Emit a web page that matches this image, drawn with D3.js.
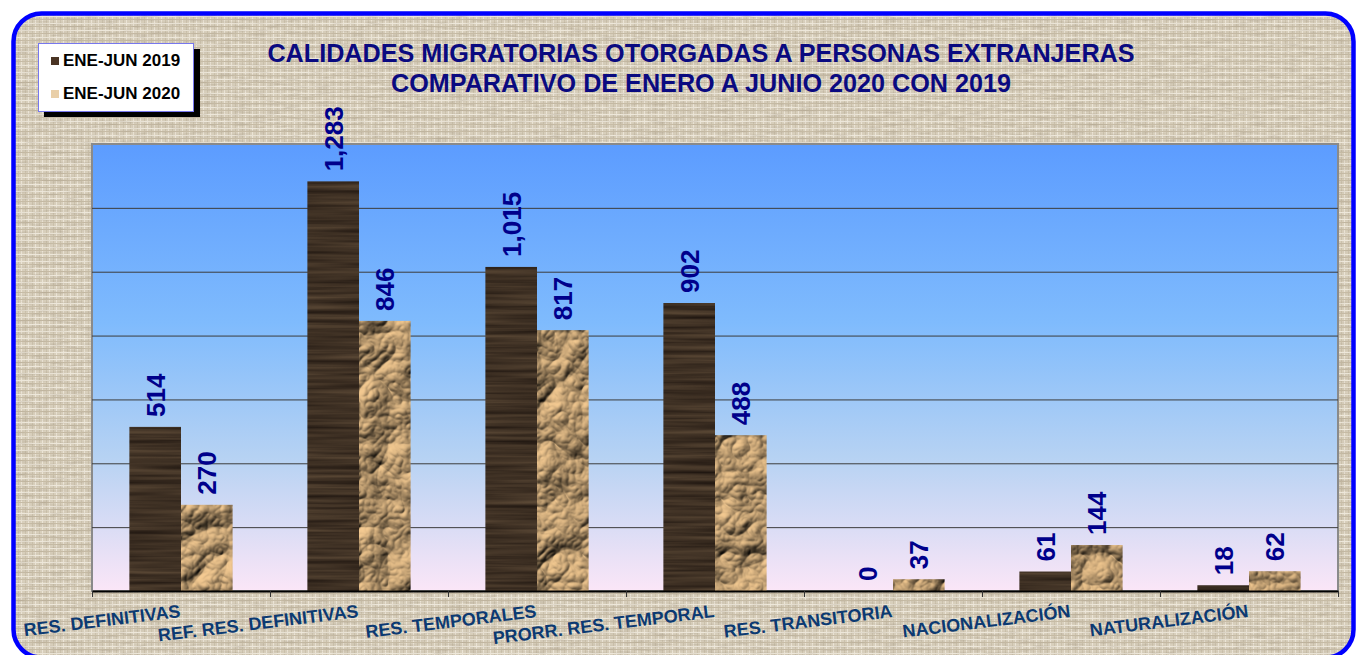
<!DOCTYPE html>
<html>
<head>
<meta charset="utf-8">
<script src="https://cdn.jsdelivr.net/npm/d3@7"></script>
<style>
  html, body { margin: 0; padding: 0; background: #fff; }
  svg { display: block; font-family: Arial, "Liberation Sans", sans-serif; }
</style>
</head>
<body>
<div id="chart"></div>
<script>
// data
const categories = ["RES. DEFINITIVAS", "REF. RES. DEFINITIVAS", "RES. TEMPORALES",
  "PRORR. RES. TEMPORAL", "RES. TRANSITORIA", "NACIONALIZACIÓN", "NATURALIZACIÓN"];
const ene2019 = [514, 1283, 1015, 902, 0, 61, 18];
const ene2020 = [270, 846, 817, 488, 37, 144, 62];
const seriesNames = ["ENE-JUN 2019", "ENE-JUN 2020"];
const titleLines = ["CALIDADES MIGRATORIAS OTORGADAS A PERSONAS EXTRANJERAS",
  "COMPARATIVO DE ENERO A JUNIO 2020 CON 2019"];
const gridValues = [200, 400, 600, 800, 1000, 1200];

const width = 1357, height = 655;
const plot = {left: 92, right: 1338, top: 144, bottom: 591};

const svg = d3.select("#chart").append("svg")
  .attr("width", width).attr("height", height);
const defs = svg.append("defs");

// linen background
const linen = defs.append("pattern").attr("id", "linen")
  .attr("patternUnits", "userSpaceOnUse").attr("width", 7).attr("height", 7);
linen.append("rect").attr("width", 7).attr("height", 7).attr("fill", "#d8cfbc");
linen.append("rect").attr("x", 0).attr("width", 1).attr("height", 7).attr("fill", "#ebe4d6");
linen.append("rect").attr("x", 4).attr("width", 1).attr("height", 7).attr("fill", "#cbc1ac");
linen.append("rect").attr("y", 2).attr("width", 7).attr("height", 1).attr("fill", "#ede7da");
linen.append("rect").attr("y", 5).attr("width", 7).attr("height", 1).attr("fill", "#c7bca6");

const noise = defs.append("filter").attr("id", "noise")
  .attr("color-interpolation-filters", "sRGB")
  .attr("x", 0).attr("y", 0).attr("width", 1).attr("height", 1);
noise.append("feTurbulence").attr("type", "fractalNoise")
  .attr("baseFrequency", "0.06 0.5").attr("numOctaves", 2).attr("seed", 3).attr("result", "t");
noise.append("feColorMatrix").attr("in", "t").attr("type", "matrix")
  .attr("values", "0 0 0 0 0.6  0 0 0 0 0.55  0 0 0 0 0.47  1.2 0 0 0 -0.5").attr("result", "c");
noise.append("feComposite").attr("in", "c").attr("in2", "SourceGraphic").attr("operator", "in");

// plot background gradient
const grad = defs.append("linearGradient").attr("id", "sky")
  .attr("x1", 0).attr("y1", 0).attr("x2", 0).attr("y2", 1);
[["0%", "#5c9cff"], ["40%", "#7fbbfd"], ["70%", "#b6d2f3"], ["100%", "#fbe6f7"]]
  .forEach(s => grad.append("stop").attr("offset", s[0]).attr("stop-color", s[1]));

// texture filters, rendered once into a pattern that the bars use as fill
function texture(id) {
  const f = defs.append("filter").attr("id", id + "F")
    .attr("color-interpolation-filters", "sRGB")
    .attr("x", 0).attr("y", 0).attr("width", 1).attr("height", 1);
  const p = defs.append("pattern").attr("id", id)
    .attr("patternUnits", "userSpaceOnUse").attr("width", width).attr("height", height);
  p.append("rect").attr("width", width).attr("height", height)
    .attr("fill", "#000").attr("filter", `url(#${id}F)`);
  return f;
}

// dark wood texture for 2019
const wood = texture("wood");
wood.append("feTurbulence").attr("type", "fractalNoise")
  .attr("baseFrequency", "0.006 0.2").attr("numOctaves", 3).attr("seed", 7).attr("result", "t");
wood.append("feColorMatrix").attr("in", "t").attr("type", "matrix")
  .attr("values", "0.32 0 0 0 0.085  0.27 0 0 0 0.055  0.2 0 0 0 0.04  0 0 0 0 1");

// crumpled paper texture for 2020
const paper = texture("paper");
paper.append("feTurbulence").attr("type", "turbulence")
  .attr("baseFrequency", "0.018").attr("numOctaves", 4).attr("seed", 11).attr("result", "t");
const light = paper.append("feDiffuseLighting").attr("in", "t")
  .attr("surfaceScale", 7).attr("diffuseConstant", 1.12)
  .attr("lighting-color", "#dcb683");
light.append("feDistantLight").attr("azimuth", 235).attr("elevation", 45);

// frame
const frame = {x: 13.5, y: 13.5, w: 1340, h: 644, r: 28};
["url(#linen)", "#fff", "none"].forEach((f, i) => {
  const r = svg.append("rect").attr("x", frame.x).attr("y", frame.y)
    .attr("width", frame.w).attr("height", frame.h).attr("rx", frame.r).attr("fill", f);
  if (i === 1) r.attr("filter", "url(#noise)").attr("opacity", 0.55);
  if (i === 2) r.attr("stroke", "#0000ff").attr("stroke-width", 4.5);
});

// scales
const x = d3.scaleBand().domain(categories).range([plot.left, plot.right])
  .paddingInner(0.42).paddingOuter(0.21);
const xSub = d3.scaleBand().domain(seriesNames).range([0, x.bandwidth()]);
const y = d3.scaleLinear().domain([0, 1400]).range([plot.bottom, plot.top]);
const xIdx = d3.scaleLinear().domain([0, categories.length]).range([plot.left, plot.right]);

// plot area
svg.append("rect").attr("x", plot.left).attr("y", plot.top)
  .attr("width", plot.right - plot.left).attr("height", plot.bottom - plot.top)
  .attr("fill", "url(#sky)").attr("stroke", "#8a8a8a").attr("stroke-width", 2);

svg.append("g").attr("transform", `translate(${plot.left},0)`)
  .call(d3.axisLeft(y).tickValues(gridValues).tickSize(-(plot.right - plot.left)).tickFormat(""))
  .call(g => g.select(".domain").remove())
  .call(g => g.selectAll("line").attr("stroke", "#3c3c3c").attr("stroke-width", 1));

// bars
const series = [ene2019, ene2020];
const textures = ["url(#wood)", "url(#paper)"];
const bars = series.flatMap((vals, j) => vals.map((v, i) => ({v, j, cat: categories[i], s: seriesNames[j]})));

svg.append("g").selectAll("rect").data(bars).join("rect")
  .attr("x", d => x(d.cat) + xSub(d.s))
  .attr("y", d => y(d.v))
  .attr("width", xSub.bandwidth())
  .attr("height", d => y(0) - y(d.v))
  .attr("fill", d => textures[d.j]);

svg.append("g").selectAll("text").data(bars).join("text")
  .attr("transform", d => `translate(${x(d.cat) + xSub(d.s) + xSub.bandwidth() / 2},${y(d.v) - 10}) rotate(-90)`)
  .attr("dy", "0.36em")
  .attr("font-size", 26).attr("font-weight", "bold").attr("fill", "#00008b")
  .text(d => d3.format(",")(d.v));

// x axis
svg.append("g").attr("transform", `translate(0,${plot.bottom})`)
  .call(d3.axisBottom(xIdx).tickValues(d3.range(categories.length + 1)).tickSize(6).tickSizeOuter(0).tickFormat(""))
  .call(g => g.select(".domain").attr("stroke", "#000").attr("stroke-width", 2))
  .call(g => g.selectAll("line").attr("stroke", "#333"));

svg.append("g").selectAll("text").data(categories).join("text")
  .attr("transform", d => `translate(${x(d) + x.bandwidth() / 2},617) rotate(-7)`)
  .attr("text-anchor", "end")
  .attr("font-size", 18).attr("font-weight", "bold").attr("fill", "#0c3a72")
  .text(d => d);

// title
svg.append("g").selectAll("text").data(titleLines).join("text")
  .attr("x", 701).attr("y", (d, i) => 62 + i * 30)
  .attr("text-anchor", "middle")
  .attr("font-size", 25.2).attr("font-weight", "bold").attr("fill", "#0a0a80")
  .text(d => d);

// legend
const legend = svg.append("g");
legend.append("rect").attr("x", 44).attr("y", 49).attr("width", 156).attr("height", 68).attr("fill", "#000");
legend.append("rect").attr("x", 38.5).attr("y", 43.5).attr("width", 155).attr("height", 68)
  .attr("fill", "#fff").attr("stroke", "#7777ee").attr("stroke-width", 1);
const items = legend.selectAll("g").data(seriesNames).join("g")
  .attr("transform", (d, i) => `translate(51,${57 + i * 33})`);
items.append("rect").attr("width", 8).attr("height", 8)
  .attr("fill", (d, i) => i === 0 ? "#4a3424" : "#e9cfa8");
items.append("text").attr("x", 12).attr("y", 9)
  .attr("font-size", 17).attr("font-weight", "bold").attr("fill", "#000")
  .text(d => d);
</script>
</body>
</html>
